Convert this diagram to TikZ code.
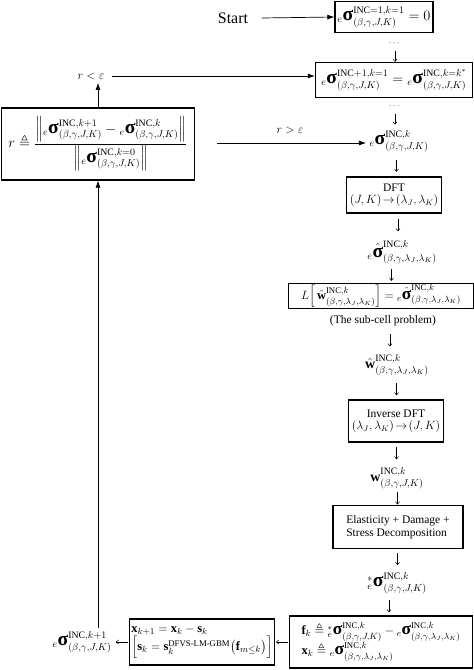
\documentclass[tikz,border=0pt]{standalone}
\usepackage{amsmath,amssymb,graphicx}
\usepackage{fontspec}
\setmainfont{Liberation Serif}
\usetikzlibrary{arrows.meta,calc}
\newcommand{\bsig}{\text{\bfseries\scalebox{1.4}{σ}}}
\newcommand{\es}{{}_{e}\bsig}
\newcommand{\esh}{{}_{e}\hat{\bsig}}
\newcommand{\BGJK}{(\beta,\gamma,J,K)}
\newcommand{\BGLL}{(\beta,\gamma,\lambda_J,\lambda_K)}
\newcommand{\INC}{\mathrm{INC}}
\tikzset{
  box/.style={draw, line width=1.3pt, inner sep=3pt},
  txt/.style={font=\fontsize{11.5}{13}\selectfont},
  mth/.style={font=\fontsize{14}{17}\selectfont},
  mths/.style={font=\fontsize{12.5}{15}\selectfont},
  harr/.style={line width=0.7pt, -{Latex[length=7pt,width=5pt]}},
  darr/.style={line width=0.5pt, -{To[length=3pt,width=4.5pt]}},
}
\begin{document}
\begin{tikzpicture}[x=1pt,y=-1pt]
\useasboundingbox (0,0) rectangle (474,670);
% nodes
\node[font=\fontsize{16}{19}\selectfont] (start) at (233,18) {Start};
\node[box, mth, minimum width=98pt, minimum height=31pt, inner sep=1pt] (b1) at (384,17) {$\es^{\INC=1,k=1}_{\BGJK} = 0$};
\node[font=\fontsize{9}{10}\selectfont] (d1) at (395,43) {$\cdots$};
\node[box, mth, minimum width=157pt, minimum height=35pt, inner sep=1pt] (b2) at (394,80) {$\es^{\INC+1,k=1}_{\BGJK} = \es^{\INC,k=k^*}_{\BGJK}$};
\node[font=\fontsize{9}{10}\selectfont] (d2) at (395,106) {$\cdots$};
\node[mth] (sk) at (399,141) {$\es^{\INC,k}_{\BGJK}$};
\node[box, txt, align=center, minimum width=94pt, minimum height=36pt] (dft) at (394,195) {DFT\\[-1pt]$(J,K)\!\rightarrow\!(\lambda_J,\lambda_K)$};
\node[mth] (skh) at (402,252) {$\esh^{\INC,k}_{\BGLL}$};
\node[box, mths, minimum width=185pt, minimum height=25pt, inner sep=1pt] (lb) at (381,296) {$L\Bigl[\,\hat{\mathbf{w}}^{\INC,k}_{\BGLL}\Bigr] = \esh^{\INC,k}_{\BGLL}$};
\node[txt] (sub) at (383,321) {(The sub-cell problem)};
\node[mth] (wh) at (397,365) {$\hat{\mathbf{w}}^{\INC,k}_{\BGLL}$};
\node[box, txt, align=center, minimum width=88pt, minimum height=42pt] (idft) at (396,421) {Inverse DFT\\[-1pt]$(\lambda_J,\lambda_K)\!\rightarrow\!(J,K)$};
\node[mth] (w) at (397,478) {$\mathbf{w}^{\INC,k}_{\BGJK}$};
\node[box, txt, align=left, minimum width=130pt, minimum height=43pt] (el) at (398,527) {Elasticity + Damage +\\Stress Decomposition};
\node[mth] (ss) at (397,583) {${}^{*}_{e}\bsig^{\INC,k}_{\BGJK}$};
\node[box, mths, align=left, minimum width=183pt, minimum height=52pt, inner sep=2pt] (fb) at (381,642) {$\mathbf{f}_k \triangleq {}^{*}_{e}\bsig^{\INC,k}_{\BGJK} - \es^{\INC,k}_{\BGLL}$\\$\mathbf{x}_k \triangleq \es^{\INC,k}_{\BGLL}$};
\node[box, mths, align=left, minimum width=133pt, minimum height=46pt, inner sep=2pt] (sb) at (202,642) {$\mathbf{x}_{k+1} = \mathbf{x}_k - \mathbf{s}_k$\\$\Bigl[\mathbf{s}_k = \mathbf{s}_k^{\text{DFVS-LM-GBM}}\bigl(\mathbf{f}_{m\le k}\bigr)\Bigr]$};
\node[mth] (snew) at (82,642) {$\es^{\INC,k+1}_{\BGJK}$};
\node[box, mth, minimum width=193pt, minimum height=72pt, inner sep=2pt] (rb) at (98,144) {$r \triangleq \dfrac{\left\| \es^{\INC,k+1}_{\BGJK} - \es^{\INC,k}_{\BGJK}\right\|}{\left\|\es^{\INC,k=0}_{\BGJK}\right\|}$};
\node[font=\fontsize{12}{14}\selectfont] (rlt) at (91,76) {$r<\varepsilon$};
\node[font=\fontsize{12}{14}\selectfont] (rgt) at (290,130) {$r>\varepsilon$};
\coordinate (gsrc) at ($(rb.east)+(22,-1)$);
% connectors
\draw[harr] (start.east) ++(10,0) -- (b1.west);
\draw[darr] ($(d1.south)+(0,2)$) -- (b2.north -| d1.south);
\draw[darr] ($(d2.south)+(0,2)$) -- ++(0,11);
\draw[darr] ($(sk.south)!.5!(dft.north)+(0,-6)$) -- ++(0,12);
\draw[darr] ($(dft.south)!.5!(skh.north)+(0,-6)$) -- ++(0,12);
\draw[darr] ($(skh.south)!.5!(lb.north)+(0,-6)$) -- ++(0,12);
\draw[darr] ($(sub.south)!.5!(wh.north)+(0,-6)$) -- ++(0,12);
\draw[darr] ($(wh.south)!.5!(idft.north)+(0,-6)$) -- ++(0,12);
\draw[darr] ($(idft.south)!.5!(w.north)+(0,-6)$) -- ++(0,12);
\draw[darr] ($(w.south)!.5!(el.north)+(0,-6)$) -- ++(0,12);
\draw[darr] ($(el.south)!.5!(ss.north)+(0,-6)$) -- ++(0,12);
\draw[darr] ($(ss.south)!.5!(fb.north)+(0,-6)$) -- ++(0,12);
\draw[darr] ($(fb.west)!.5!(sb.east)+(6,0)$) -- ++(-12,0);
\draw[darr] ($(sb.west)!.5!(snew.east)+(6,0)$) -- ++(-12,0);
\draw[harr] (snew.north -| rb.south) -- (rb.south);
\draw[harr] (rb.north) -- (rlt.south -| rb.north);
\draw[harr] (rlt.east) ++(4,0) -- (b2.west |- rlt.east);
\draw[harr] (gsrc) -- (sk.west |- gsrc);
\end{tikzpicture}
\end{document}
